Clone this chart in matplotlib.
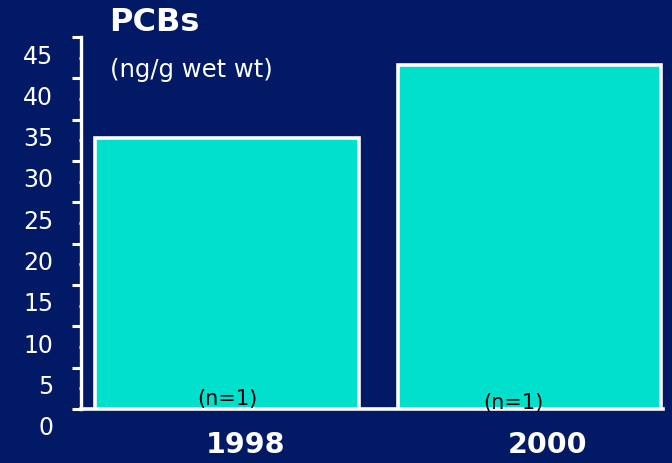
import matplotlib
matplotlib.use('Agg')
import numpy as np
import matplotlib.pyplot as plt
from matplotlib.transforms import ScaledTranslation

years = ['1998', '2000']
pcbs = [32.8, 41.6]
n_labels = ['(n=1)', '(n=1)']

bg = '#021a66'
bar_col = '#00e0cc'

plt.rcParams['font.family'] = ['DejaVu Sans']

fig = plt.figure(figsize=(6.72, 4.64), dpi=100, facecolor=bg)
ax = fig.add_axes([0.1205, 0.1164, 0.866, 0.8017], facecolor=bg)

x = np.arange(len(years))
ax.bar(x, pcbs, width=0.87, color=bar_col, edgecolor='white', linewidth=2.6, zorder=3)

ax.set_xlim(-0.482, 1.44)
ax.set_ylim(0, 45)

for s in ['top', 'right']:
    ax.spines[s].set_visible(False)
ax.spines['left'].set_color('white')
ax.spines['left'].set_linewidth(2.4)
ax.spines['bottom'].set_color('white')
ax.spines['bottom'].set_linewidth(2.6)

ax.set_yticks(np.arange(0, 46, 5))
ax.set_yticks(np.arange(2.5, 45, 5), minor=True)
ax.tick_params(axis='y', which='major', length=6.5, width=2.2, color='white',
               labelcolor='white', labelsize=17, pad=13.5)
ax.tick_params(axis='y', which='minor', length=1.5, width=2, color='white')
off = ScaledTranslation(0, -16 / 100, fig.dpi_scale_trans)
for lab in ax.get_yticklabels():
    lab.set_transform(lab.get_transform() + off)

ax.set_xticks([])

# year labels, set a little right of bar centre
for xi, yr in zip(x, years):
    ax.text(xi + 0.06, -0.095, yr, transform=ax.get_xaxis_transform(),
            ha='center', va='center', color='white', fontsize=20.5, fontweight='bold')

# sample size labels
n_dx = [0.0, -0.055]
n_y = [1.35, 0.85]
for xi, lab, dx, yy in zip(x, n_labels, n_dx, n_y):
    ax.text(xi + dx, yy, lab, ha='center', va='center', color='black', fontsize=15, zorder=4)

fig.text(0.163, 0.951, 'PCBs', color='white', fontsize=23, fontweight='bold',
         ha='left', va='center')
fig.text(0.163, 0.849, '(ng/g wet wt)', color='white', fontsize=17.5,
         ha='left', va='center')

fig.savefig('out.png', dpi=100, facecolor=bg)
